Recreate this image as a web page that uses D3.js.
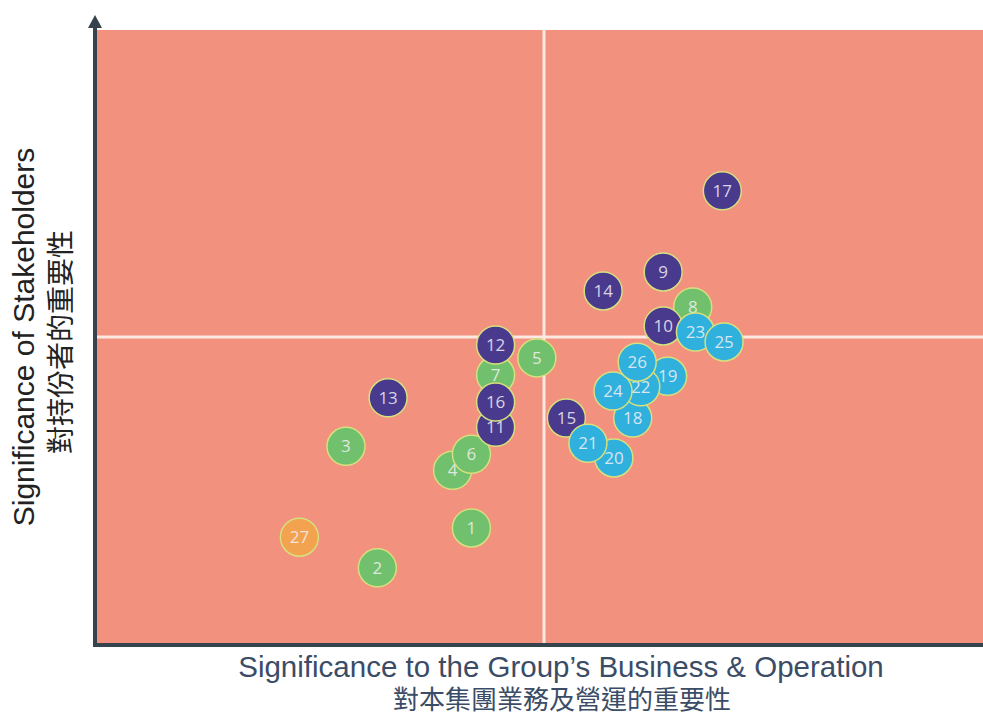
<!DOCTYPE html>
<html>
<head>
<meta charset="utf-8">
<script src="https://cdn.jsdelivr.net/npm/d3@7"></script>
<style>
  body { margin: 0; background: #fff; }
  svg { display: block; }
</style>
</head>
<body>
<svg id="chart" width="983" height="717"></svg>
<script>
// issue numbers, their group and their position on the matrix (0..10 both ways)
var ids = [1, 2, 3, 4, 5, 6, 7, 8, 9, 10, 11, 12, 13, 14, 15, 16, 17, 18, 19, 20, 21, 22, 23, 24, 25, 26, 27];
var groups = ['env', 'env', 'env', 'env', 'env', 'env', 'env', 'env',
  'soc', 'soc', 'soc', 'soc', 'soc', 'soc', 'soc', 'soc', 'soc',
  'emp', 'emp', 'emp', 'emp', 'emp', 'emp', 'emp', 'emp', 'emp',
  'oth'];
var bizValues = [4.19, 3.14, 2.79, 3.98, 4.92, 4.19, 4.46, 6.66, 6.33, 6.33, 4.46, 4.46, 3.26, 5.66,
  5.25, 4.46, 6.99, 5.99, 6.38, 5.78, 5.49, 6.08, 6.69, 5.77, 7.01, 6.04, 2.27];
var stakeValues = [1.89, 1.24, 3.22, 2.83, 4.66, 3.09, 4.38, 5.49, 6.06, 5.18, 3.53, 4.87, 4.01, 5.75,
  3.68, 3.94, 7.38, 3.68, 4.36, 3.03, 3.27, 4.19, 5.08, 4.12, 4.92, 4.59, 1.74];
var midLines = [5, 5];
var xTitle = ['Significance to the Group\u2019s Business & Operation', '對本集團業務及營運的重要性'];
var yTitle = ['Significance of Stakeholders', '對持份者的重要性'];

var colors = { env: '#70c06d', soc: '#4a3a8e', emp: '#2fb0dd', oth: '#f3a24f' };

var svg = d3.select('#chart');
var plotL = 96, plotR = 992, plotT = 30, plotB = 644;

var x = d3.scaleLinear().domain([0, 10]).range([plotL, plotR]);
var y = d3.scaleLinear().domain([0, 10]).range([plotB, plotT]);

// background
svg.append('rect')
  .attr('x', plotL).attr('y', plotT)
  .attr('width', plotR - plotL).attr('height', plotB - plotT)
  .attr('fill', '#f3917f');

// quadrant lines
svg.append('line')
  .attr('x1', x(midLines[0])).attr('x2', x(midLines[0]))
  .attr('y1', plotT).attr('y2', plotB)
  .attr('stroke', '#fbe9e2').attr('stroke-width', 3);
svg.append('line')
  .attr('x1', plotL).attr('x2', plotR)
  .attr('y1', y(midLines[1])).attr('y2', y(midLines[1]))
  .attr('stroke', '#fbe9e2').attr('stroke-width', 3);

// axes (no ticks, just the lines)
var axisColor = '#37434c';
svg.append('g').attr('class', 'x axis')
  .attr('transform', 'translate(0,' + (plotB + 1) + ')')
  .call(d3.axisBottom(x).tickValues([]).tickSizeOuter(0))
  .select('.domain').attr('stroke', axisColor).attr('stroke-width', 4)
  .attr('d', 'M' + (plotL - 3) + ',0H' + plotR);
svg.append('g').attr('class', 'y axis')
  .attr('transform', 'translate(' + (plotL - 1) + ',0)')
  .call(d3.axisLeft(y).tickValues([]).tickSizeOuter(0))
  .select('.domain').attr('stroke', axisColor).attr('stroke-width', 4)
  .attr('d', 'M0,' + (plotB + 3) + 'V' + 26);
svg.append('path')
  .attr('d', 'M' + (plotL - 1) + ',15L' + (plotL + 6) + ',28L' + (plotL - 8) + ',28Z')
  .attr('fill', axisColor);

// points
var pts = ids.map(function (id, i) {
  return { id: id, g: groups[i], bx: bizValues[i], sy: stakeValues[i] };
});
var node = svg.append('g').selectAll('g')
  .data(pts)
  .enter().append('g')
  .attr('transform', function (d) { return 'translate(' + x(d.bx) + ',' + y(d.sy) + ')'; });
node.append('circle')
  .attr('r', 19)
  .attr('fill', function (d) { return colors[d.g]; })
  .attr('stroke', '#d6e07e').attr('stroke-width', 1.5);
node.append('text')
  .attr('text-anchor', 'middle')
  .attr('dy', '0.36em')
  .attr('font-family', 'Open Sans, sans-serif')
  .attr('font-size', 17)
  .attr('fill', '#f4f0f6').attr('fill-opacity', 0.85)
  .text(function (d) { return d.id; });

// titles
svg.append('text')
  .attr('x', 561).attr('y', 677)
  .attr('text-anchor', 'middle')
  .attr('font-family', 'Liberation Sans, Arial, sans-serif')
  .attr('font-size', 29.5).attr('fill', '#3b4c66')
  .text(xTitle[0]);
svg.append('text')
  .attr('x', 562).attr('y', 709)
  .attr('text-anchor', 'middle')
  .attr('font-family', 'Noto Sans CJK TC, sans-serif')
  .attr('font-size', 26).attr('fill', '#3b4c66')
  .text(xTitle[1]);
svg.append('text')
  .attr('transform', 'translate(34,337) rotate(-90)')
  .attr('text-anchor', 'middle')
  .attr('font-family', 'Liberation Sans, Arial, sans-serif')
  .attr('font-size', 30).attr('fill', '#222')
  .text(yTitle[0]);
svg.append('text')
  .attr('transform', 'translate(71,342) rotate(-90)')
  .attr('text-anchor', 'middle')
  .attr('font-family', 'Noto Sans CJK TC, sans-serif')
  .attr('font-size', 28).attr('fill', '#222')
  .text(yTitle[1]);
</script>
</body>
</html>
